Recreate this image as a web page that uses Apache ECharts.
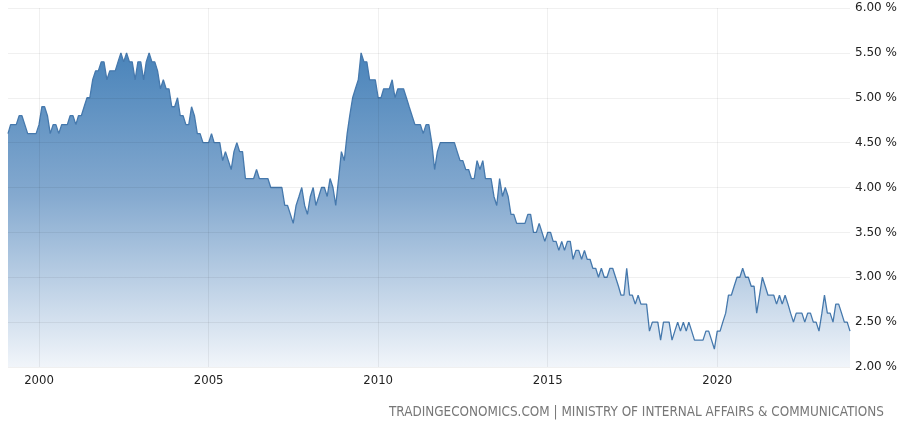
<!DOCTYPE html>
<html>
<head>
<meta charset="utf-8">
<title>Japan Unemployment Rate</title>
<script src="https://cdn.jsdelivr.net/npm/echarts@6/dist/echarts.min.js"></script>
<style>
html, body { margin: 0; padding: 0; background: #fff; }
#chart { width: 900px; height: 428px; }
</style>
</head>
<body>
<div id="chart"></div>
<script>
// monthly data, first value is Feb 1999
const startYear = 1999;
const startMonth = 2;

// unemployment rate in %, one row per year
const rate = [
  4.6, 4.7, 4.7, 4.7, 4.8, 4.8, 4.7, 4.6, 4.6, 4.6, 4.6,            // 1999
  4.7, 4.9, 4.9, 4.8, 4.6, 4.7, 4.7, 4.6, 4.7, 4.7, 4.7, 4.8,       // 2000
  4.8, 4.7, 4.8, 4.8, 4.9, 5.0, 5.0, 5.2, 5.3, 5.3, 5.4, 5.4,       // 2001
  5.2, 5.3, 5.3, 5.3, 5.4, 5.5, 5.4, 5.5, 5.4, 5.4, 5.2, 5.4,       // 2002
  5.4, 5.2, 5.4, 5.5, 5.4, 5.4, 5.3, 5.1, 5.2, 5.1, 5.1, 4.9,       // 2003
  4.9, 5.0, 4.8, 4.8, 4.7, 4.7, 4.9, 4.8, 4.6, 4.6, 4.5, 4.5,       // 2004
  4.5, 4.6, 4.5, 4.5, 4.5, 4.3, 4.4, 4.3, 4.2, 4.4, 4.5, 4.4,       // 2005
  4.4, 4.1, 4.1, 4.1, 4.1, 4.2, 4.1, 4.1, 4.1, 4.1, 4.0, 4.0,       // 2006
  4.0, 4.0, 4.0, 3.8, 3.8, 3.7, 3.6, 3.8, 3.9, 4.0, 3.8, 3.7,       // 2007
  3.9, 4.0, 3.8, 3.9, 4.0, 4.0, 3.9, 4.1, 4.0, 3.8, 4.1, 4.4,       // 2008
  4.3, 4.6, 4.8, 5.0, 5.1, 5.2, 5.5, 5.4, 5.4, 5.2, 5.2, 5.2,       // 2009
  5.0, 5.0, 5.1, 5.1, 5.1, 5.2, 5.0, 5.1, 5.1, 5.1, 5.0, 4.9,       // 2010
  4.8, 4.7, 4.7, 4.7, 4.6, 4.7, 4.7, 4.5, 4.2, 4.4, 4.5, 4.5,       // 2011
  4.5, 4.5, 4.5, 4.5, 4.4, 4.3, 4.3, 4.2, 4.2, 4.1, 4.1, 4.3,       // 2012
  4.2, 4.3, 4.1, 4.1, 4.1, 3.9, 3.8, 4.1, 3.9, 4.0, 3.9, 3.7,       // 2013
  3.7, 3.6, 3.6, 3.6, 3.6, 3.7, 3.7, 3.5, 3.5, 3.6, 3.5, 3.4,       // 2014
  3.5, 3.5, 3.4, 3.4, 3.3, 3.4, 3.3, 3.4, 3.4, 3.2, 3.3, 3.3,       // 2015
  3.2, 3.3, 3.2, 3.2, 3.1, 3.1, 3.0, 3.1, 3.0, 3.0, 3.1, 3.1,       // 2016
  3.0, 2.9, 2.8, 2.8, 3.1, 2.8, 2.8, 2.7, 2.8, 2.7, 2.7, 2.7,       // 2017
  2.4, 2.5, 2.5, 2.5, 2.3, 2.5, 2.5, 2.5, 2.3, 2.4, 2.5, 2.4,       // 2018
  2.5, 2.4, 2.5, 2.4, 2.3, 2.3, 2.3, 2.3, 2.4, 2.4, 2.3, 2.2,       // 2019
  2.4, 2.4, 2.5, 2.6, 2.8, 2.8, 2.9, 3.0, 3.0, 3.1, 3.0, 3.0,       // 2020
  2.9, 2.9, 2.6, 2.8, 3.0, 2.9, 2.8, 2.8, 2.8, 2.7, 2.8, 2.7,       // 2021
  2.8, 2.7, 2.6, 2.5, 2.6, 2.6, 2.6, 2.5, 2.6, 2.6, 2.5, 2.5,       // 2022
  2.4, 2.6, 2.8, 2.6, 2.6, 2.5, 2.7, 2.7, 2.6, 2.5, 2.5, 2.4        // 2023
];

const yearTicks = [2000, 2005, 2010, 2015, 2020];
const yTicks = [2, 2.5, 3, 3.5, 4, 4.5, 5, 5.5, 6];
const source = 'TRADINGECONOMICS.COM | MINISTRY OF INTERNAL AFFAIRS & COMMUNICATIONS';

// pair every value with its month
const points = rate.map(function (v, i) {
  const m = startMonth - 1 + i;
  return [new Date(startYear + Math.floor(m / 12), m % 12, 1).getTime(), v];
});

// grid lines go on top of the area, like the original
const gridColor = 'rgba(0, 0, 0, 0.06)';
const yearLines = yearTicks.map(function (y) {
  return {
    xAxis: new Date(y, 0, 1).getTime(),
    label: {
      show: true,
      position: 'start',
      formatter: String(y),
      color: '#222',
      fontFamily: 'DejaVu Sans Condensed',
      fontSize: 13,
      distance: 7
    }
  };
});
const valueLines = yTicks.map(function (v) {
  return { yAxis: v, label: { show: false } };
});

const chart = echarts.init(document.getElementById('chart'));

chart.setOption({
  animation: false,
  grid: { left: 8, right: 50, top: 8, bottom: 61 },
  xAxis: {
    type: 'time',
    min: points[0][0],
    max: points[points.length - 1][0],
    axisLine: { show: false },
    axisTick: { show: false },
    axisLabel: { show: false },
    splitLine: { show: false }
  },
  yAxis: {
    type: 'value',
    position: 'right',
    min: yTicks[0],
    max: yTicks[yTicks.length - 1],
    interval: 0.5,
    axisLine: { show: false },
    axisTick: { show: false },
    axisLabel: {
      formatter: function (v) { return v.toFixed(2) + ' %'; },
      color: '#222',
      fontFamily: 'DejaVu Sans',
      fontSize: 12,
      margin: 5
    },
    splitLine: { show: false }
  },
  series: [{
    type: 'line',
    data: points,
    showSymbol: false,
    lineStyle: { color: '#4679ad', width: 1.3 },
    areaStyle: {
      origin: 'start',
      opacity: 1,
      color: new echarts.graphic.LinearGradient(0, 0, 0, 1, [
        { offset: 0, color: '#4a84ba' },
        { offset: 0.45, color: '#84a9cf' },
        { offset: 1, color: '#f1f5fa' }
      ])
    },
    markLine: {
      silent: true,
      symbol: 'none',
      lineStyle: { type: 'solid', color: gridColor, width: 1 },
      data: yearLines.concat(valueLines)
    }
  }],
  graphic: [{
    type: 'text',
    right: 16,
    top: 406,
    style: {
      text: source,
      fill: '#777',
      font: '13.4px "DejaVu Sans Condensed"'
    }
  }]
});
</script>
</body>
</html>
